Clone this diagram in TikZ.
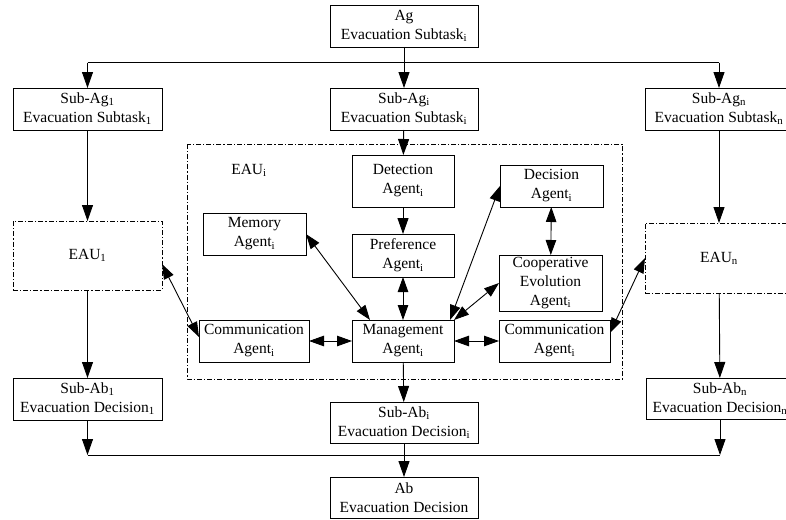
\documentclass[tikz,border=0pt]{standalone}
\usepackage{fontspec}
\setmainfont{Liberation Serif}
\usetikzlibrary{arrows.meta}
\begin{document}
\begin{tikzpicture}[x=1pt,y=-1pt,
  font=\fontsize{15.5}{19}\selectfont,
  line width=0.9pt,
  box/.style={draw, align=center, inner sep=0pt, outer sep=0pt},
  unitbox/.style={box, dash pattern=on 5pt off 2pt on 1.2pt off 2pt},
  arr/.style={-{Triangle[length=16pt,width=11pt]}},
  darr/.style={{Triangle[length=15pt,width=10.5pt]}-{Triangle[length=15pt,width=10.5pt]}}]
\useasboundingbox (0,0) rectangle (786,519);

% task decomposition level
\node[box, minimum width=148pt, minimum height=42pt] (Ag) at (404,26) {Ag\\Evacuation Subtask\textsubscript{i}};
\node[box, minimum width=149pt, minimum height=42pt] (SubAg1) at (87.5,109) {Sub-Ag\textsubscript{1}\\Evacuation Subtask\textsubscript{1}};
\node[box, minimum width=148pt, minimum height=42pt] (SubAgi) at (404,109) {Sub-Ag\textsubscript{i}\\Evacuation Subtask\textsubscript{i}};
\node[box, minimum width=148pt, minimum height=42pt] (SubAgn) at (719,109) {Sub-Ag\textsubscript{n}\\Evacuation Subtask\textsubscript{n}};

% evacuation agent unit i
\draw[dash pattern=on 5pt off 2pt on 1.2pt off 2pt] (187,144) rectangle (622,379);
\node (EAUi) at (249,170) {EAU\textsubscript{i}};
\node[box, minimum width=102pt, minimum height=52pt] (Det) at (403,181) {Detection\\Agent\textsubscript{i}};
\node[box, minimum width=103pt, minimum height=42pt] (Dec) at (551.5,186) {Decision\\Agent\textsubscript{i}};
\node[box, minimum width=103pt, minimum height=42pt] (Mem) at (254.5,234) {Memory\\Agent\textsubscript{i}};
\node[box, minimum width=102pt, minimum height=43pt] (Pref) at (403,255.5) {Preference\\Agent\textsubscript{i}};
\node[box, minimum width=103pt, minimum height=56pt] (Coop) at (550.5,283) {Cooperative\\Evolution\\Agent\textsubscript{i}};
\node[box, minimum width=110pt, minimum height=42pt] (CommL) at (254,341) {Communication\\Agent\textsubscript{i}};
\node[box, minimum width=102pt, minimum height=42pt] (Mgmt) at (403,341) {Management\\Agent\textsubscript{i}};
\node[box, minimum width=111pt, minimum height=42pt] (CommR) at (554.5,341) {Communication\\Agent\textsubscript{i}};

% neighbouring units
\node[unitbox, minimum width=149pt, minimum height=69pt] (EAU1) at (87.5,255.5) {EAU\textsubscript{1}};
\node[unitbox, minimum width=148pt, minimum height=70pt] (EAUn) at (719,258) {EAU\textsubscript{n}};

% decision level
\node[box, minimum width=149pt, minimum height=42pt] (SubAb1) at (87.5,399) {Sub-Ab\textsubscript{1}\\Evacuation Decision\textsubscript{1}};
\node[box, minimum width=148pt, minimum height=41pt] (SubAbi) at (404,422.5) {Sub-Ab\textsubscript{i}\\Evacuation Decision\textsubscript{i}};
\node[box, minimum width=148pt, minimum height=41pt] (SubAbn) at (720,398.5) {Sub-Ab\textsubscript{n}\\Evacuation Decision\textsubscript{n}};
\node[box, minimum width=148pt, minimum height=41pt] (Ab) at (404,497.5) {Ab\\Evacuation Decision};

% distribution of subtasks
\coordinate (split) at (404,62.5);
\coordinate (join) at (404,455);
\draw[arr] (Ag) -- (SubAgi);
\draw (SubAg1 |- split) -- (SubAgn |- split);
\draw[arr] (SubAg1 |- split) -- (SubAg1);
\draw[arr] (SubAgn |- split) -- (SubAgn);

% unit chains
\draw[arr] (SubAg1) -- (EAU1);
\draw[arr] (EAU1) -- (SubAb1);
\draw[arr] (SubAgn) -- (EAUn);
\draw[arr] (EAUn) -- (SubAbn);
\draw[arr] (SubAgi) -- (Det);
\draw[arr] (Det) -- (Pref);
\draw[darr] (Pref) -- (Mgmt);
\draw[darr] (Mem.east) -- ([xshift=-33pt]Mgmt.north);
\draw[darr] ([xshift=-4pt]Mgmt.north east) -- (Dec.west);
\draw[darr] (Mgmt.north east) -- (Coop.west);
\draw[darr] (Dec) -- (Coop);
\draw[darr] (CommL) -- (Mgmt);
\draw[darr] (Mgmt) -- (CommR);
\draw[darr] ([yshift=4pt]CommL.west) -- ([yshift=-8.5pt]EAU1.east);
\draw[darr] ([yshift=8pt]CommR.east) -- (EAUn.west);
\draw[arr] (Mgmt) -- (SubAbi);

% aggregation of decisions
\draw (SubAb1 |- join) -- (SubAbn |- join);
\draw[arr] (SubAb1) -- (SubAb1 |- join);
\draw[arr] (SubAbn) -- (SubAbn |- join);
\draw[arr] (SubAbi) -- (Ab);
\end{tikzpicture}
\end{document}
